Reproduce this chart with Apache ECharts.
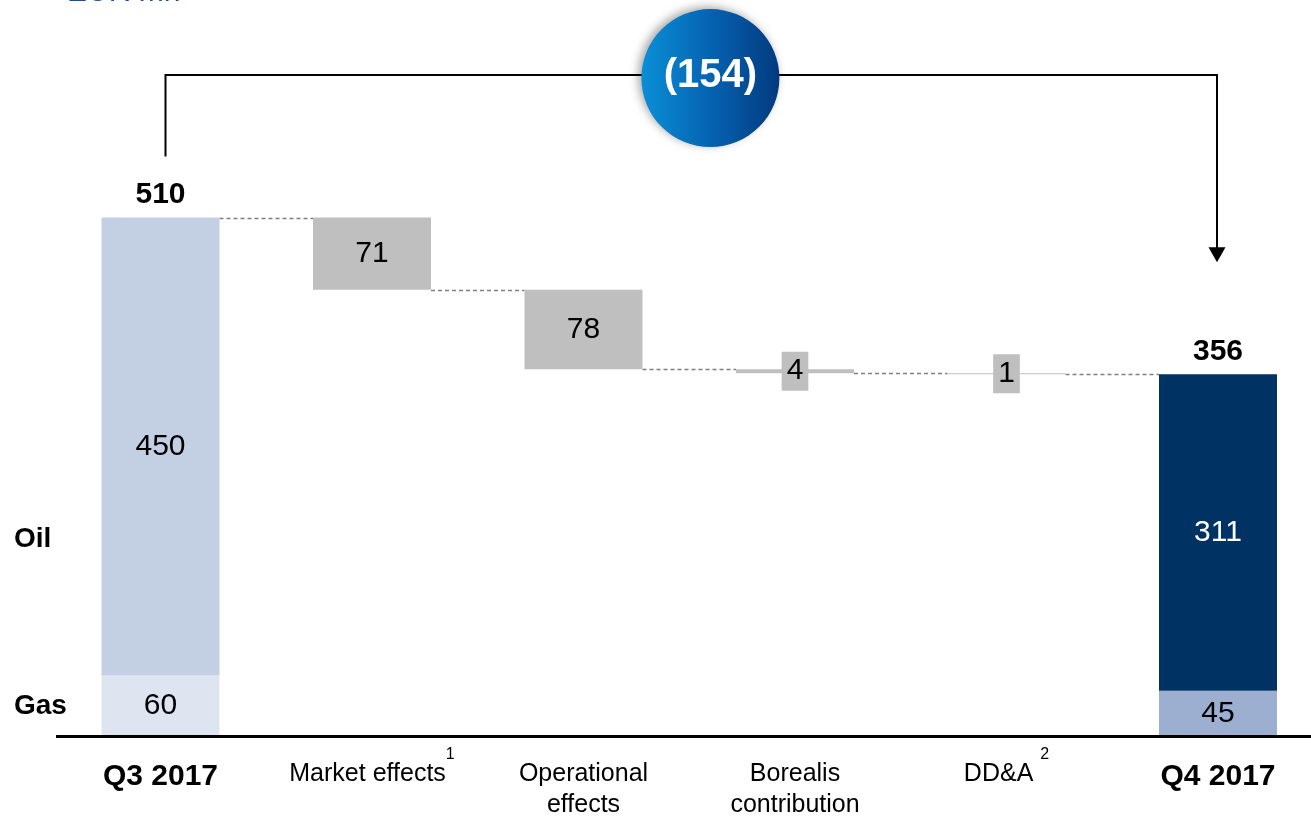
<!DOCTYPE html>
<html>
<head>
<meta charset="utf-8">
<script src="https://cdn.jsdelivr.net/npm/echarts@6/dist/echarts.min.js"></script>
<style>
  html, body { margin: 0; padding: 0; background: #ffffff; }
  #chart { width: 1311px; height: 816px; }
</style>
</head>
<body>
<div id="chart"></div>
<script>
// Clean CCS Upstream result bridge, EUR mn
const categories = ['Q3 2017', 'Market effects', 'Operational\neffects', 'Borealis\ncontribution', 'DD&A', 'Q4 2017'];
const footnotes = ['', '1', '', '', '2', ''];
const gasValues = [60, null, null, null, null, 45];
const oilValues = [450, null, null, null, null, 311];
const changeValues = [null, -71, -78, -4, -1, null];
const unitLabel = 'EUR mn';
const segmentNames = ['Oil', 'Gas'];

const FONT = "'Liberation Sans', Arial, Helvetica, sans-serif";
const BAR_W = 118;

// running totals for the bridge
const startTotal = gasValues[0] + oilValues[0];
const endTotal = gasValues[5] + oilValues[5];
const baseValues = [];
const stepValues = [];
const connectors = [[0, startTotal]];
let level = startTotal;
changeValues.forEach((c, i) => {
  if (c === null) { baseValues.push(null); stepValues.push(null); return; }
  const next = level + c;
  baseValues.push(Math.min(level, next));
  stepValues.push(Math.abs(c));
  connectors.push([i, next]);
  level = next;
});
const totalChange = endTotal - startTotal;
const totals = [[0, startTotal], [categories.length - 1, endTotal]];

const totalColors = { gas: ['#dfe5f0', '#9dafd0'], oil: ['#c3cfe2', '#003263'] };

function segData(values, kind) {
  return values.map((v, i) => {
    if (v === null) return null;
    const isEnd = i === values.length - 1;
    return {
      value: v,
      itemStyle: { color: totalColors[kind][isEnd ? 1 : 0] },
      label: { color: (kind === 'oil' && isEnd) ? '#ffffff' : '#000000' }
    };
  });
}

const stepData = stepValues.map(v => {
  if (v === null) return null;
  const small = v < 10;
  return {
    value: v,
    label: small ? {
      backgroundColor: '#bfbfbf',
      padding: [4, 5, 4, 5],
      lineHeight: 31
    } : {}
  };
});

const chart = echarts.init(document.getElementById('chart'), null, { renderer: 'canvas' });

// category centres sit on the grid edges (boundaryGap off), bars keep a fixed width
const option = {
  animation: false,
  backgroundColor: '#ffffff',
  textStyle: { fontFamily: FONT },
  grid: { left: 160.5, top: 24.2, width: 1057.5, height: 712.3, containLabel: false, outerBoundsMode: 'none' },
  xAxis: {
    type: 'category',
    data: categories,
    boundaryGap: false,
    axisLine: { show: false },
    axisTick: { show: false },
    splitLine: { show: false },
    axisLabel: {
      interval: 0,
      margin: 10,
      formatter: (val, idx) => {
        const lines = val.split('\n');
        const main = (idx === 0 || idx === categories.length - 1) ? 'b' : 'n';
        let s = '{' + main + '|' + lines[0] + (footnotes[idx] && idx === 4 ? ' ' : '') + '}';
        if (footnotes[idx]) s += '{sup|' + footnotes[idx] + '}';
        if (lines[1]) s += '\n{n2|' + lines[1] + '}';
        return s;
      },
      rich: {
        n: { fontFamily: FONT, fontSize: 25, color: '#000', height: 25, lineHeight: 40, verticalAlign: 'bottom' },
        b: { fontFamily: FONT, fontSize: 30, fontWeight: 'bold', color: '#000', height: 20, lineHeight: 40, verticalAlign: 'bottom' },
        sup: { fontFamily: FONT, fontSize: 16, color: '#000', height: 16, lineHeight: 16, verticalAlign: 'top' },
        n2: { fontFamily: FONT, fontSize: 25, color: '#000', lineHeight: 37 }
      }
    }
  },
  yAxis: {
    type: 'value', min: 0, max: 700, show: false,
    splitLine: { show: false }
  },
  series: [
    {
      name: 'base', type: 'bar', stack: 'bridge', barWidth: BAR_W, silent: true,
      itemStyle: { color: 'transparent' }, data: baseValues
    },
    {
      name: segmentNames[1], type: 'bar', stack: 'bridge', barWidth: BAR_W,
      data: segData(gasValues, 'gas'),
      label: { show: true, position: 'inside', fontFamily: FONT, fontSize: 30 }
    },
    {
      name: segmentNames[0], type: 'bar', stack: 'bridge', barWidth: BAR_W,
      data: segData(oilValues, 'oil'),
      label: { show: true, position: 'inside', fontFamily: FONT, fontSize: 30 }
    },
    {
      name: 'change', type: 'bar', stack: 'bridge', barWidth: BAR_W,
      itemStyle: { color: '#bfbfbf' },
      data: stepData,
      label: { show: true, position: 'inside', fontFamily: FONT, fontSize: 30, color: '#000' }
    },
    {
      // bold total above each end bar
      name: 'total', type: 'custom', silent: true, z: 5,
      data: totals,
      renderItem: (params, api) => {
        const p = api.coord([api.value(0), api.value(1)]);
        return {
          type: 'text',
          x: p[0], y: p[1] - 8,
          style: {
            text: String(api.value(1)),
            font: 'bold 30px ' + FONT, fill: '#000000',
            align: 'center', verticalAlign: 'bottom'
          }
        };
      }
    },
    {
      name: 'connectors', type: 'custom', silent: true, z: 1,
      data: connectors,
      renderItem: (params, api) => {
        const i = api.value(0);
        const lvl = api.value(1);
        const a = api.coord([i, lvl]);
        const b = api.coord([i + 1, lvl]);
        const y = Math.round(a[1]) + 0.5;
        return {
          type: 'line',
          shape: { x1: a[0] + BAR_W / 2, y1: y, x2: b[0] - BAR_W / 2, y2: y },
          style: { stroke: '#7f7f7f', lineWidth: 1.5, lineDash: [4, 3] }
        };
      }
    }
  ]
};

chart.setOption(option);

// baseline, bracket with total change bubble, unit label and segment captions
const toPx = (i, v) => chart.convertToPixel({ gridIndex: 0 }, [i, v]);
const baseY = toPx(0, 0)[1];
const bracketStart = toPx(0, startTotal + 60);
const arrowTip = toPx(categories.length - 1, endTotal + 110);
const bracketTopY = toPx(0, 650)[1];
const xL = bracketStart[0] + 5;
const xR = arrowTip[0] - 1;
const p2 = toPx(2, 0)[0];
const p3 = toPx(3, 0)[0];
const bubbleX = p2 + 0.6 * (p3 - p2);
const bubbleY = bracketTopY + 3;
const oilY = toPx(0, 194)[1];
const gasY = toPx(0, gasValues[0] / 2)[1];

chart.setOption({
  graphic: [
    {
      type: 'line', z: 10, silent: true,
      shape: { x1: 56, y1: baseY, x2: 1311, y2: baseY },
      style: { stroke: '#000', lineWidth: 3 }
    },
    {
      type: 'polyline', z: 10, silent: true,
      shape: { points: [[xL, bracketStart[1]], [xL, bracketTopY], [xR, bracketTopY], [xR, arrowTip[1] - 14]] },
      style: { stroke: '#000', lineWidth: 2, fill: null }
    },
    {
      type: 'polygon', z: 10, silent: true,
      shape: { points: [[xR - 8.5, arrowTip[1] - 15], [xR + 8.5, arrowTip[1] - 15], [xR, arrowTip[1]]] },
      style: { fill: '#000' }
    },
    {
      type: 'circle', z: 20, silent: true,
      shape: { cx: bubbleX, cy: bubbleY, r: 69 },
      style: {
        fill: new echarts.graphic.LinearGradient(0, 0, 1, 0, [
          { offset: 0, color: '#0a8fd6' },
          { offset: 0.5, color: '#0563b2' },
          { offset: 1, color: '#023a7e' }
        ]),
        shadowBlur: 10, shadowColor: 'rgba(0,0,0,0.35)', shadowOffsetX: -3, shadowOffsetY: -2
      }
    },
    {
      type: 'text', z: 21, silent: true,
      x: bubbleX, y: bubbleY - 2,
      style: {
        text: '(' + Math.abs(totalChange) + ')',
        font: 'bold 40px ' + FONT, fill: '#ffffff', align: 'center', verticalAlign: 'middle'
      }
    },
    {
      type: 'text', silent: true, x: 67, y: -7.5,
      style: { text: unitLabel, font: '30px ' + FONT, fill: '#1f4e8c', align: 'left', verticalAlign: 'middle' }
    },
    {
      type: 'text', silent: true, x: 14, y: oilY,
      style: { text: segmentNames[0], font: 'bold 28px ' + FONT, fill: '#000', align: 'left', verticalAlign: 'middle' }
    },
    {
      type: 'text', silent: true, x: 14, y: gasY,
      style: { text: segmentNames[1], font: 'bold 28px ' + FONT, fill: '#000', align: 'left', verticalAlign: 'middle' }
    }
  ]
});
</script>
</body>
</html>
